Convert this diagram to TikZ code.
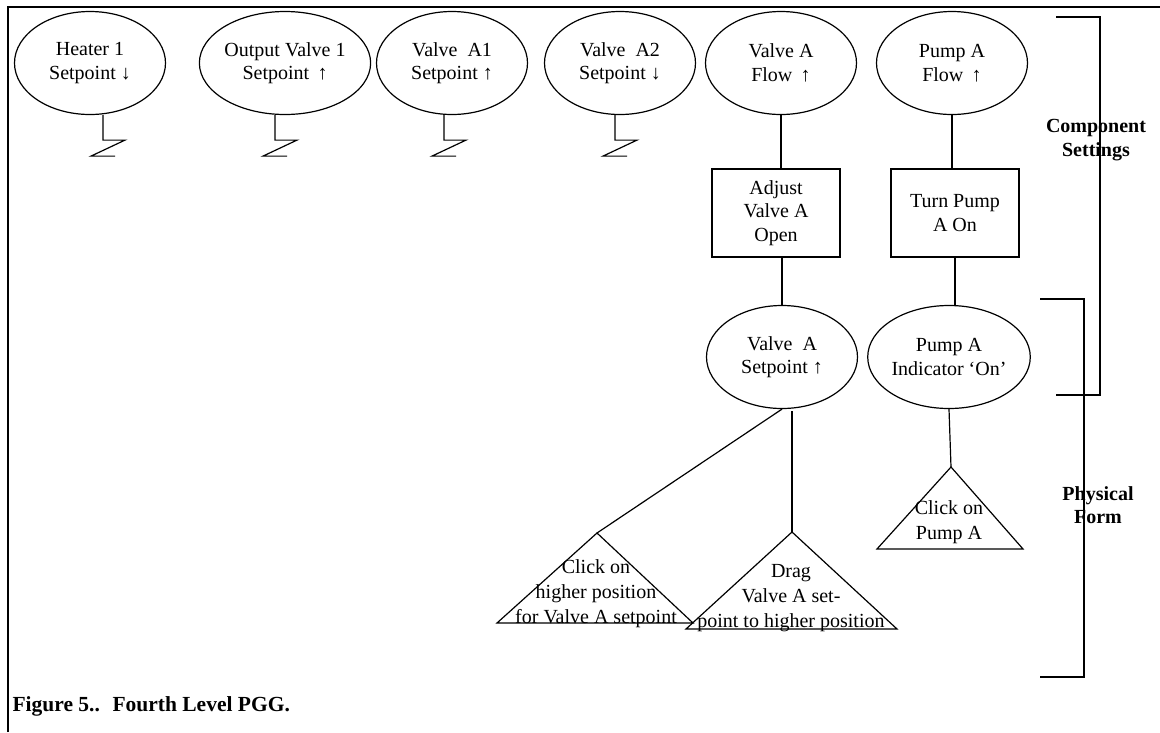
\documentclass[tikz,border=0pt]{standalone}
\usepackage{fontspec}
\setmainfont{Liberation Serif}
\usetikzlibrary{shapes.geometric,positioning}

\tikzset{
  goal/.style={draw,ellipse,minimum width=151pt,minimum height=103pt,inner sep=0pt,align=center},
  task/.style={draw,rectangle,minimum width=128pt,minimum height=88pt,inner sep=0pt,align=center},
  act/.style={align=center,inner sep=0pt,font=\fontsize{20}{25}\selectfont},
  side/.style={align=center,inner sep=0pt,font=\fontsize{20}{23.5}\selectfont\bfseries}
}

\begin{document}
\begin{tikzpicture}[x=1pt,y=-1pt,line width=1.2pt,font=\fontsize{20}{23.5}\selectfont]
    \useasboundingbox (0,0) rectangle (1160,732);
    \draw[line width=2.4pt] (8,732) -- (8,7) -- (1160,7);
    % component setting goals
    \foreach \name/\x/\txt in {heater/90/{Heater 1\\Setpoint ↓},
        outv/285/{Output Valve 1\\Setpoint \,↑},
        vaone/452/{Valve~ A1\\Setpoint ↑},
        vatwo/620/{Valve~ A2\\Setpoint ↓},
        va/781/{Valve A\\Flow \,↑},
        pa/952/{Pump A\\Flow \,↑}}{
        \node[goal] (\name) at (\x,63) {\txt};
    }
    % not expanded further
    \foreach \name/\dx in {heater/13,outv/-10,vaone/-8,vatwo/-5}{
        \draw (\name.south) ++(\dx,0) -- ++(0,25) -- ++(22,0) -- ++(-34,16) -- ++(24,0);
    }
    \node[task] (adjust) at (776,213) {Adjust\\Valve A\\Open};
    \node[task] (turnp) at (955,213) {Turn Pump\\A On};
    \node[goal] (vsp) at (782,357) {Valve~ A\\Setpoint ↑};
    \node[goal] (pind) at (949,357) {Pump A\\Indicator ‘On’};
    \draw (va.south) -- (va.south |- adjust.north);
    \draw (pa.south) -- (pa.south |- turnp.north);
    \draw (adjust.south -| vsp.north) -- (vsp.north);
    \draw (turnp.south) -- (turnp.south |- pind.north);
    % physical actions
    \coordinate (clickapex) at (597,533);
    \coordinate (dragapex) at (792,532);
    \coordinate (pumpapex) at (951,467);
    \draw (clickapex) -- (693,623) -- (497,623) -- cycle;
    \draw (dragapex) -- (897,629) -- (686,629) -- cycle;
    \draw (pumpapex) -- (1023,549) -- (877,549) -- cycle;
    \node[act] (click) at (596,594) {Click on\\higher position\\for Valve A setpoint};
    \node[act] (drag) at (791,598) {Drag\\Valve A set-\\point to higher position};
    \node[act] (clickp) at (949,522) {Click on\\Pump A};
    \draw (vsp.south) -- (clickapex);
    \draw (dragapex |- vsp.south) ++(0,2) -- (dragapex);
    \draw (pind.south) -- (pumpapex);
    % level brackets
    \draw (1056,17) -- (1100,17) -- (1100,395) -- (1056,395);
    \draw (1040,299) -- (1084,299) -- (1084,677) -- (1040,677);
    \node[side] (settings) at (1096,140) {Component\\Settings};
    \node[side] (physical) at (1098,505) {Physical\\Form};
    \node[side,anchor=west,font=\fontsize{21.5}{25}\selectfont\bfseries] (caption) at (12,706) {Figure 5..~ Fourth Level PGG.};
\end{tikzpicture}
\end{document}
